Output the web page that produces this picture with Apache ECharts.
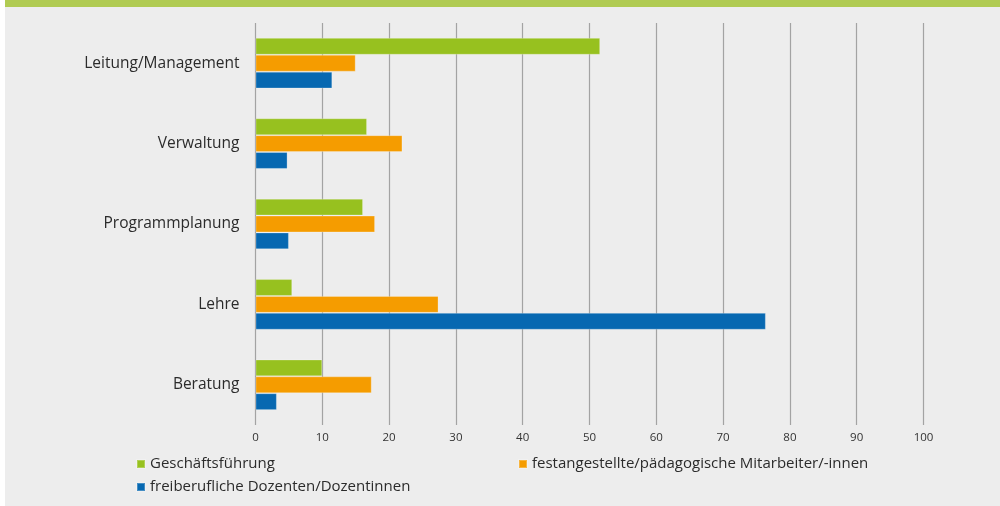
<!DOCTYPE html>
<html><head><meta charset="utf-8">
<script src="https://cdn.jsdelivr.net/npm/echarts@6/dist/echarts.min.js"></script>
<style>html,body{margin:0;padding:0;background:#fff}#c{width:1000px;height:506px}</style>
</head><body><div id="c"></div>
<script>
const categories = ['Leitung/Management','Verwaltung','Programmplanung','Lehre','Beratung'];
const seriesNames = ['Geschäftsführung','festangestellte/pädagogische Mitarbeiter/-innen','freiberufliche Dozenten/Dozentinnen'];
const geschaeftsfuehrung = [51.6, 16.7, 16.1, 5.5, 10.0];
const festangestellte = [15.0, 22.0, 17.9, 27.4, 17.4];
const freiberufliche = [11.5, 4.8, 5.0, 76.4, 3.2];
const xTicks = [0,10,20,30,40,50,60,70,80,90,100];
const colors = ['#97c11f','#f59c00','#0768b1'];
const values = [geschaeftsfuehrung, festangestellte, freiberufliche];
const font = 'Open Sans';

const chart = echarts.init(document.getElementById('c'), null, {renderer:'canvas'});
chart.setOption({
  animation:false,
  textStyle:{fontFamily:font},
  graphic:[
    {type:'rect', z:-10, shape:{x:5,y:0,width:995,height:506}, style:{fill:'#ededed'}},
    {type:'rect', z:-9, shape:{x:5,y:0,width:995,height:7}, style:{fill:'#b0cb52'}}
  ],
  grid:{left:255.5, right:76.5, top:23, bottom:81, containLabel:false},
  xAxis:{type:'value', min:xTicks[0], max:xTicks[xTicks.length-1], interval:10,
    axisLine:{show:false}, axisTick:{show:false},
    axisLabel:{color:'#333', fontSize:11.5, fontFamily:font, margin:7},
    splitLine:{show:true, lineStyle:{color:'#a3a3a3', width:1.2}}},
  yAxis:{type:'category', data:categories, inverse:true,
    axisLine:{show:false}, axisTick:{show:false},
    axisLabel:{color:'#2b2b2b', fontSize:15.5, fontFamily:font, margin:16}},
  legend:[
    {data:[seriesNames[0]], left:136, top:455},
    {data:[seriesNames[1]], left:518, top:455},
    {data:[seriesNames[2]], left:136, top:478}
  ].map(l=>Object.assign(l,{icon:'rect', itemWidth:8, itemHeight:8, itemGap:0, padding:0,
      textStyle:{color:'#2b2b2b', fontSize:15, lineHeight:18, fontFamily:font}})),
  series: seriesNames.map((n,i)=>({
    name:n, type:'bar', data:values[i], barGap:'0%', barCategoryGap:'37%',
    itemStyle:{color:colors[i], borderColor:'rgba(255,255,255,0.25)', borderWidth:1}
  }))
});
</script></body></html>
